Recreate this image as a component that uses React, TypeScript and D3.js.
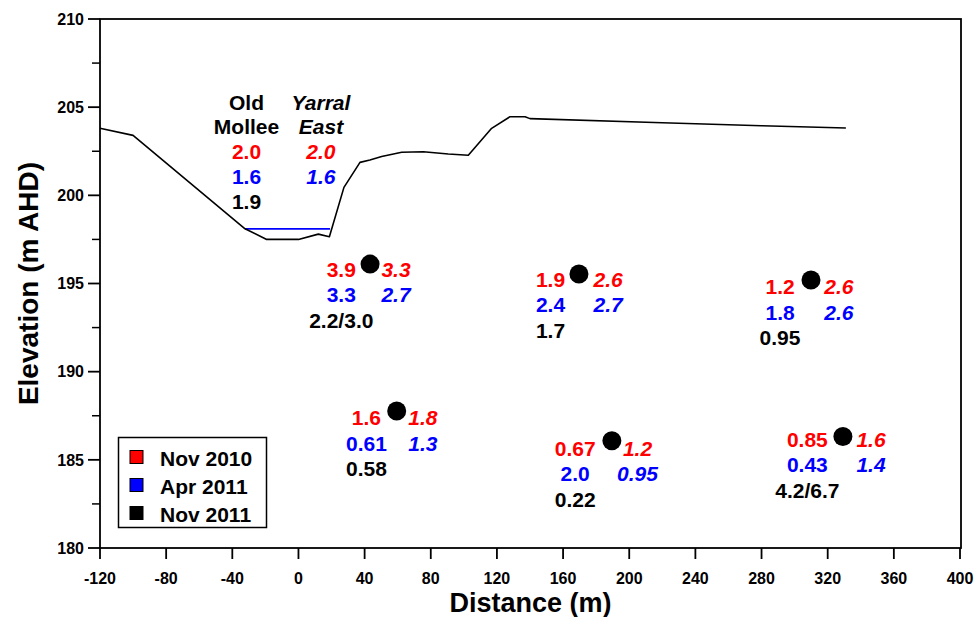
import React from "react";
import * as d3 from "d3";

// ---- data ----
const terrainDistance = [-120, -100, -32.3, -19.2, 0, 12, 18.7, 27.5, 37.2, 43.2, 50.3, 62.4, 75.5, 90.6, 102.7, 116.8, 127.9, 137, 140, 220, 280, 331];
const terrainElevation = [203.8, 203.4, 198.1, 197.5, 197.5, 197.8, 197.65, 200.45, 201.87, 202.0, 202.2, 202.44, 202.47, 202.34, 202.27, 203.8, 204.46, 204.46, 204.35, 204.12, 203.95, 203.82];
const waterDistance = [-32.3, 19.1];
const waterElevation = [198.1, 198.1];

const siteDistance = [43.3, 169.6, 309.9, 59.4, 189.5, 329.2];
const siteElevation = [196.1, 195.54, 195.2, 187.77, 186.08, 186.32];
const labelLeftDistance = [25.9, 152.4, 291.2, 41.1, 167.3, 307.7];
const labelRightDistance = [59.0, 187.2, 326.8, 75.2, 205, 346.2];
const labelElevation = [195.39, 194.82, 194.4, 186.97, 185.23, 185.74];

const nov2010Old = ["3.9", "1.9", "1.2", "1.6", "0.67", "0.85"];
const nov2010Yarral = ["3.3", "2.6", "2.6", "1.8", "1.2", "1.6"];
const apr2011Old = ["3.3", "2.4", "1.8", "0.61", "2.0", "0.43"];
const apr2011Yarral = ["2.7", "2.7", "2.6", "1.3", "0.95", "1.4"];
const nov2011Old = ["2.2/3.0", "1.7", "0.95", "0.58", "0.22", "4.2/6.7"];

const headerDistance = [-31.4, 13.6];
const headerName = [["Old", "Mollee"], ["Yarral", "East"]];
const riverNov2010 = ["2.0", "2.0"];
const riverApr2011 = ["1.6", "1.6"];
const riverNov2011 = ["1.9", ""];

const legendLabels = ["Nov 2010", "Apr 2011", "Nov 2011"];
const legendColors = ["#ff0000", "#0000ff", "#000000"];

const xTicks = d3.range(-120, 401, 40);
const yTicks = d3.range(180, 211, 5);
const yMinorTicks = d3.range(182.5, 210, 5);

const W = 975, H = 617;
const left = 100, right = 961, top = 19, bottom = 548;
const FONT = "'Liberation Sans', Arial, Helvetica, sans-serif";
const RED = "#ff0000", BLUE = "#0000ff";

export default function App() {
  const x = d3.scaleLinear().domain([-120, 400]).range([left, right - 1]);
  const y = d3.scaleLinear().domain([180, 210]).range([bottom, top]);

  const terrain = d3.line<number>().x((_, i) => x(terrainDistance[i])).y((d) => y(d))(terrainElevation) || "";
  const water = d3.line<number>().x((_, i) => x(waterDistance[i])).y((d) => y(d))(waterElevation) || "";

  const rowGap = 25.5;
  const lab = { fontFamily: FONT, fontWeight: 700, fontSize: 21 } as React.CSSProperties;

  return (
    <svg width={W} height={H} style={{ position: "absolute", left: 0, top: 0, background: "#fff" }}>
      <rect x={0} y={0} width={W} height={H} fill="#fff" />
      {/* frame */}
      <rect x={left} y={top} width={right - left} height={bottom - top} fill="none" stroke="#000" strokeWidth={1.8} />

      {/* y ticks */}
      {yTicks.map((t) => (
        <g key={"y" + t}>
          <line x1={left - 12} x2={left} y1={y(t)} y2={y(t)} stroke="#000" strokeWidth={1.8} />
          <text x={84} y={y(t)} dy="0.36em" textAnchor="end" style={{ fontFamily: FONT, fontWeight: 700, fontSize: 16 }}>{t}</text>
        </g>
      ))}
      {yMinorTicks.map((t) => (
        <line key={"ym" + t} x1={left - 8} x2={left} y1={y(t)} y2={y(t)} stroke="#000" strokeWidth={1.5} />
      ))}
      {/* x ticks */}
      {xTicks.map((t) => (
        <g key={"x" + t}>
          <line x1={x(t)} x2={x(t)} y1={bottom} y2={bottom + 11} stroke="#000" strokeWidth={1.8} />
          <text x={x(t)} y={584} textAnchor="middle" style={{ fontFamily: FONT, fontWeight: 700, fontSize: 16 }}>{t}</text>
        </g>
      ))}

      {/* axis titles */}
      <text x={(left + right) / 2} y={612} textAnchor="middle" style={{ fontFamily: FONT, fontWeight: 700, fontSize: 27 }}>Distance (m)</text>
      <text transform={`translate(38, ${(top + bottom) / 2}) rotate(-90)`} textAnchor="middle" style={{ fontFamily: FONT, fontWeight: 700, fontSize: 28 }}>Elevation (m AHD)</text>

      {/* terrain and water */}
      <path d={water} fill="none" stroke={BLUE} strokeWidth={1.6} />
      <path d={terrain} fill="none" stroke="#000" strokeWidth={1.6} strokeLinejoin="round" />

      {/* river headers */}
      {headerDistance.map((d, i) => {
        const italic = i === 1 ? "italic" : "normal";
        const cx = x(d);
        return (
          <g key={"h" + i} style={{ ...lab, fontStyle: italic }} textAnchor="middle">
            <text x={cx} y={110}>{headerName[i][0]}</text>
            <text x={cx} y={133.5}>{headerName[i][1]}</text>
            <text x={cx} y={159} fill={RED}>{riverNov2010[i]}</text>
            <text x={cx} y={184} fill={BLUE}>{riverApr2011[i]}</text>
            {riverNov2011[i] && <text x={cx} y={209}>{riverNov2011[i]}</text>}
          </g>
        );
      })}

      {/* sites */}
      {siteDistance.map((d, i) => {
        const by = y(labelElevation[i]);
        const lx = x(labelLeftDistance[i]);
        const rx = x(labelRightDistance[i]);
        return (
          <g key={"s" + i}>
            <circle cx={x(d)} cy={y(siteElevation[i])} r={9.5} fill="#000" />
            <g style={lab} textAnchor="middle">
              <text x={lx} y={by} fill={RED}>{nov2010Old[i]}</text>
              <text x={lx} y={by + rowGap} fill={BLUE}>{apr2011Old[i]}</text>
              <text x={lx} y={by + 2 * rowGap} fill="#000">{nov2011Old[i]}</text>
              <text x={rx} y={by} fill={RED} fontStyle="italic">{nov2010Yarral[i]}</text>
              <text x={rx} y={by + rowGap} fill={BLUE} fontStyle="italic">{apr2011Yarral[i]}</text>
            </g>
          </g>
        );
      })}

      {/* legend */}
      <g>
        <rect x={118.5} y={437.5} width={148} height={90} fill="#fff" stroke="#000" strokeWidth={1.5} />
        {legendLabels.map((l, i) => (
          <g key={"l" + i}>
            <rect x={130} y={450.5 + i * 28} width={13} height={13} fill={legendColors[i]} stroke="#000" strokeWidth={1} />
            <text x={160} y={466 + i * 28} style={lab}>{l}</text>
          </g>
        ))}
      </g>
    </svg>
  );
}
